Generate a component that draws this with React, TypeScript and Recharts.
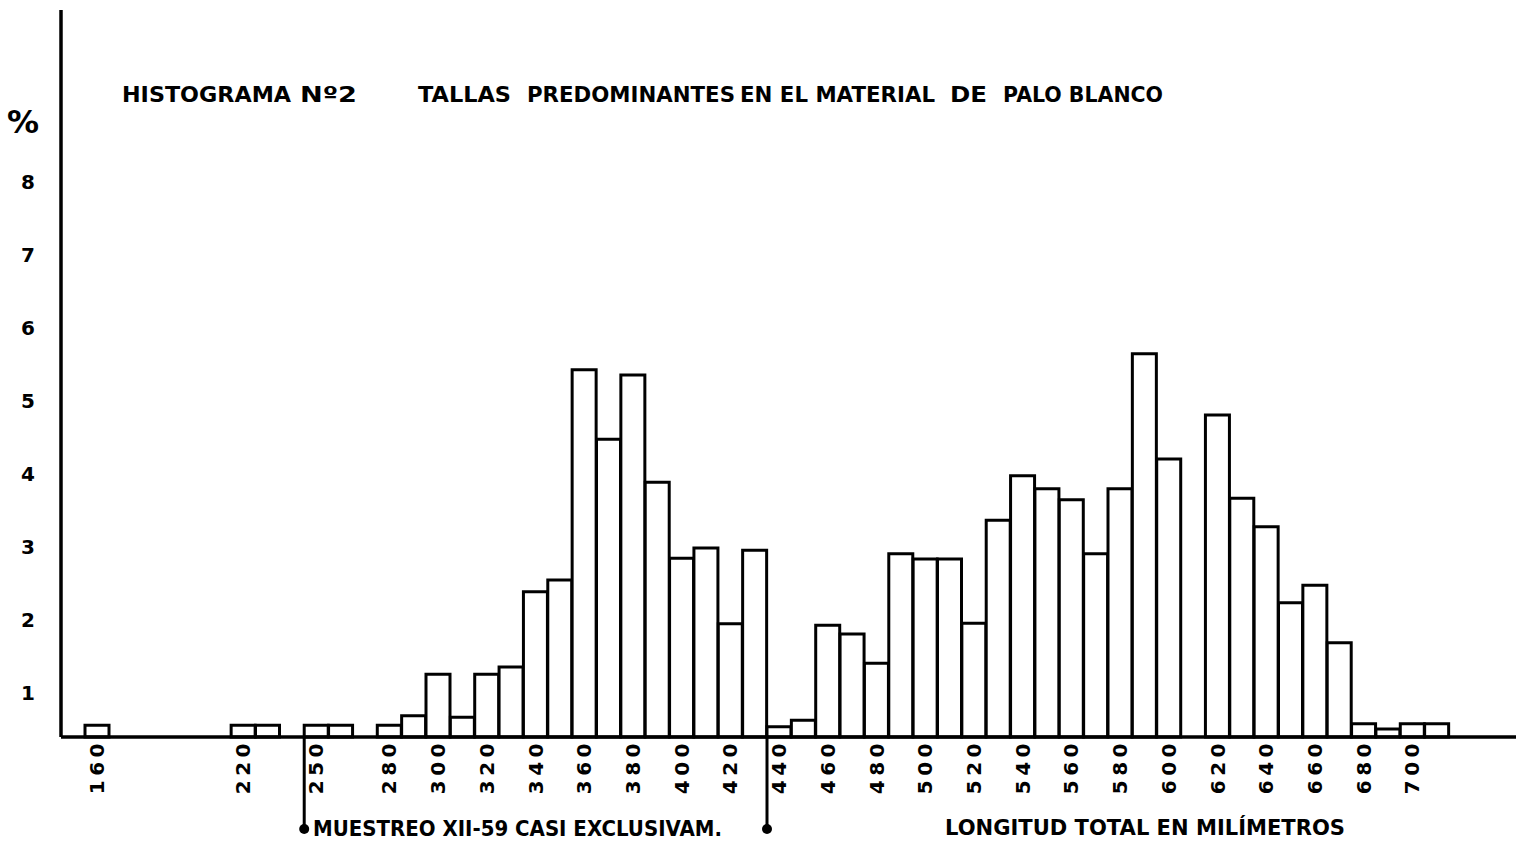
import React from "react";
import { BarChart, Bar, XAxis, YAxis, ReferenceLine } from "recharts";

// Length classes (mm, 10 mm bins, labelled by bin centre)
const CATEGORIES = [
  160, 170, 180, 190, 200, 210, 220, 230, 240, 250, 260, 270, 280, 290, 300, 310,
  320, 330, 340, 350, 360, 370, 380, 390, 400, 410, 420, 430, 440, 450, 460, 470,
  480, 490, 500, 510, 520, 530, 540, 550, 560, 570, 580, 590, 600, 610, 620, 630,
  640, 650, 660, 670, 680, 690, 700, 710,
];

// Percentage of specimens in each class
const PERCENT = [
  0.16, 0, 0, 0, 0, 0, 0.16, 0.16, 0, 0.16, 0.16, 0, 0.16, 0.29, 0.86, 0.27,
  0.86, 0.96, 1.99, 2.15, 5.03, 4.08, 4.96, 3.49, 2.45, 2.59, 1.55, 2.56, 0.14, 0.23, 1.53, 1.41,
  1.01, 2.51, 2.44, 2.44, 1.56, 2.97, 3.58, 3.4, 3.25, 2.51, 3.4, 5.25, 3.81, 0, 4.41, 3.27,
  2.88, 1.84, 2.08, 1.29, 0.18, 0.11, 0.18, 0.18,
];

const X_LABELS = [
  160, 220, 250, 280, 300, 320, 340, 360, 380, 400, 420, 440, 460, 480, 500, 520,
  540, 560, 580, 600, 620, 640, 660, 680, 700,
];

const Y_TICKS = [1, 2, 3, 4, 5, 6, 7, 8];
const Y_MAX = 9.96;

// Sampling boundaries marked below the axis (start of these classes)
const SAMPLE_START = 250;
const SAMPLE_END = 440;

const data = CATEGORIES.map((mm, i) => ({ mm, pct: PERCENT[i] }));

const FONT = "'DejaVu Sans', 'Liberation Sans', sans-serif";

const XTick = (props: any) => {
  const { x, y, payload } = props;
  if (!X_LABELS.includes(payload.value)) return <g />;
  const ty = y + 2;
  return (
    <text
      x={x}
      y={ty}
      transform={`rotate(-90 ${x} ${ty})`}
      textAnchor="end"
      dominantBaseline="central"
      fontFamily={FONT}
      fontWeight="bold"
      fontSize={20}
      letterSpacing={4.5}
      fill="#000"
    >
      {payload.value}
    </text>
  );
};

const YTick = (props: any) => {
  const { x, y, payload } = props;
  return (
    <text
      x={x - 33}
      y={y + 36}
      textAnchor="middle"
      fontFamily={FONT}
      fontWeight="bold"
      fontSize={20}
      fill="#000"
    >
      {payload.value}
    </text>
  );
};

const Marker = (p: any) => {
  const x = p.x1;
  const yb = Math.max(p.y1, p.y2);
  return (
    <g>
      <line x1={x} y1={yb} x2={x} y2={yb + 92} stroke="#000" strokeWidth={3} />
      <circle cx={x} cy={yb + 92} r={5} fill="#000" />
    </g>
  );
};

const T = (p: { x: number; y: number; len: number; size?: number; children: string }) => (
  <text
    x={p.x}
    y={p.y}
    textLength={p.len}
    lengthAdjust="spacingAndGlyphs"
    fontFamily={FONT}
    fontWeight="bold"
    fontSize={p.size ?? 22}
    fill="#000"
  >
    {p.children}
  </text>
);

export default function App() {
  return (
    <div style={{ position: "absolute", left: 0, top: 0, width: 1516, height: 841, background: "#fff" }}>
      <BarChart
        width={1516}
        height={841}
        data={data}
        margin={{ top: 10, right: 0, bottom: 0, left: 0 }}
        barCategoryGap={0}
        barGap={0}
      >
        <XAxis
          dataKey="mm"
          type="category"
          interval={0}
          height={104}
          padding={{ left: 24, right: 67 }}
          axisLine={{ stroke: "#000", strokeWidth: 3.5 }}
          tickLine={false}
          tickSize={0}
          tickMargin={0}
          tick={<XTick />}
        />
        <YAxis
          type="number"
          domain={[0, Y_MAX]}
          ticks={Y_TICKS}
          width={61}
          axisLine={{ stroke: "#000", strokeWidth: 3.5 }}
          tickLine={false}
          tickSize={0}
          tickMargin={0}
          tick={<YTick />}
        />
        <Bar
          dataKey="pct"
          fill="#fff"
          stroke="#000"
          strokeWidth={3}
          isAnimationActive={false}
        />
        <ReferenceLine x={SAMPLE_START} position="start" ifOverflow="visible" shape={Marker} />
        <ReferenceLine x={SAMPLE_END} position="start" ifOverflow="visible" shape={Marker} />
      </BarChart>
      <svg
        width={1516}
        height={841}
        style={{ position: "absolute", left: 0, top: 0, pointerEvents: "none" }}
      >
        <text x={23} y={133} textAnchor="middle" fontFamily={FONT} fontWeight="bold" fontSize={32} fill="#000">
          %
        </text>
        <T x={122} y={102} len={169}>HISTOGRAMA</T>
        <T x={300} y={102} len={57}>Nº2</T>
        <T x={418} y={102} len={93}>TALLAS</T>
        <T x={527} y={102} len={208}>PREDOMINANTES</T>
        <T x={740} y={102} len={195}>EN EL MATERIAL</T>
        <T x={950} y={102} len={37}>DE</T>
        <T x={1003} y={102} len={160}>PALO BLANCO</T>
        <T x={313} y={836} len={409} size={21}>MUESTREO XII-59 CASI  EXCLUSIVAM.</T>
        <T x={945} y={835} len={400} size={21}>LONGITUD TOTAL EN MILÍMETROS</T>
      </svg>
    </div>
  );
}
